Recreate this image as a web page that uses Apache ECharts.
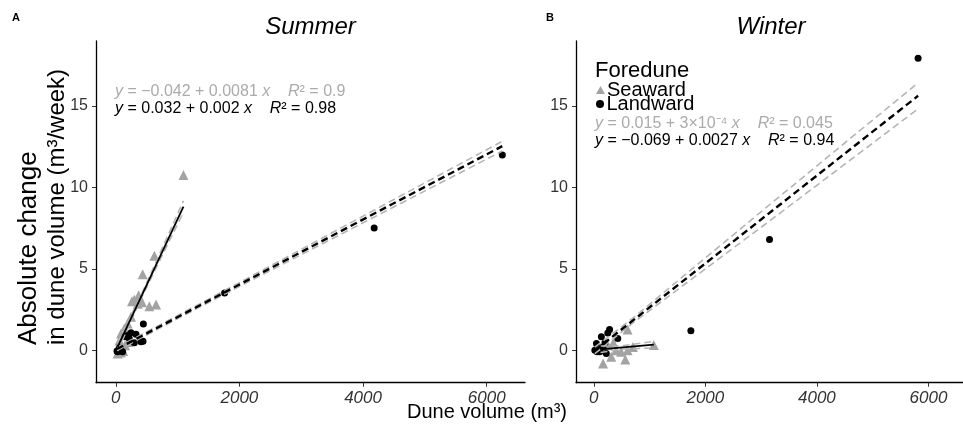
<!DOCTYPE html>
<html><head><meta charset="utf-8">
<script src="https://cdn.jsdelivr.net/npm/echarts@6/dist/echarts.min.js"></script>
<style>html,body{margin:0;padding:0;background:#fff}#c{width:963px;height:434px}</style>
</head><body><div id="c"></div>
<script>
// ---------- data ----------
const xTicks = [0, 2000, 4000, 6000];
const yTicks = [0, 5, 10, 15];

// Summer (panel A)
const summerSeawardX = [1095, 624, 435, 370, 262, 354, 425, 543, 652, 300, 246, 192, 138, 84, 60, 40, 30, 100, 150, 200, 80, 120];
const summerSeawardY = [10.76, 5.8, 4.67, 3.38, 3.0, 2.85, 2.95, 2.7, 2.8, 3.1, 2.05, 1.64, 1.33, 1.02, 0.6, 0.2, -0.2, 0.1, 0.3, 0.5, -0.15, -0.05];
const summerLandwardX = [6253, 4180, 1760, 446, 246, 327, 154, 219, 300, 408, 440, 20, 30, 84, 110, 60, 190];
const summerLandwardY = [12.0, 7.5, 3.52, 1.6, 1.07, 0.98, 0.82, 0.72, 0.45, 0.51, 0.55, -0.05, -0.1, 0.0, -0.1, 0.15, 0.9];

// Winter (panel B)
const winterSeawardX = [1075, 605, 605, 400, 564, 165, 312, 488, 700, 250, 120, 350];
const winterSeawardY = [0.31, 1.27, 0.0, 0.0, -0.57, -0.82, -0.41, -0.1, 0.2, 0.3, 0.1, 0.45];
const winterLandwardX = [5815, 3150, 1740, 282, 429, 135, 47, 18, 106, 223, 165, 250, 200, 60];
const winterLandwardY = [17.94, 6.8, 1.19, 1.27, 0.72, 0.82, 0.41, 0.0, -0.1, -0.2, 0.2, 1.05, 0.45, -0.1];

// fitted lines [intercept, slope] as printed on the chart
const summerSeawardFit = [-0.042, 0.0081];
const summerLandwardFit = [0.032, 0.002];
const winterSeawardFit = [0.015, 0.0003];
const winterLandwardFit = [-0.069, 0.0027];

// confidence band half-widths (start, interior points, end)
const summerSeawardCiMidX = [400];
const summerSeawardCiHalf = [0.25, 0.1, 0.35];
const summerLandwardCiMidX = [1500];
const summerLandwardCiHalf = [0.1, 0.1, 0.3];
const winterSeawardCiMidX = [500];
const winterSeawardCiHalf = [0.2, 0.1, 0.2];
const winterLandwardCiMidX = [700, 3150];
const winterLandwardCiHalf = [0.2, 0.15, 0.5, 0.8];

// ---------- helpers ----------
const FONT = 'Liberation Sans, Arial, sans-serif';
const GREY = '#a3a3a3';
const zip = (xs, ys) => xs.map((x, i) => [x, ys[i]]);
function fitLine(xs, fit) {
  const x0 = Math.min(...xs), x1 = Math.max(...xs);
  return [[x0, fit[0] + fit[1] * x0], [x1, fit[0] + fit[1] * x1]];
}
function ciLines(xs, fit, midX, half) {
  const px = [Math.min(...xs), ...midX, Math.max(...xs)];
  const up = px.map((x, i) => [x, fit[0] + fit[1] * x + half[i]]);
  const lo = px.map((x, i) => [x, fit[0] + fit[1] * x - half[i]]);
  return [up, lo];
}
function scatter(name, data, gi, isSea) {
  return {
    type: 'scatter', name, xAxisIndex: gi, yAxisIndex: gi, data,
    symbol: isSea ? 'triangle' : 'circle', symbolSize: isSea ? 10 : 7,
    itemStyle: { color: isSea ? GREY : '#000', opacity: 1 }, z: 2, silent: true
  };
}
function line(data, gi, color, width, dashed, z) {
  return {
    type: 'line', data, xAxisIndex: gi, yAxisIndex: gi, symbol: 'none', silent: true,
    lineStyle: { color, width, type: dashed ? [7, 4] : 'solid' }, z
  };
}
function fitGroup(xs, fit, midX, half, gi, landward) {
  const [up, lo] = ciLines(xs, fit, midX, half);
  return [
    line(up, gi, '#b5b5b5', 1.6, true, 3),
    line(lo, gi, '#b5b5b5', 1.6, true, 3),
    line(fitLine(xs, fit), gi, '#000', landward ? 2.4 : 1.8, landward, 4)
  ];
}

const series = [
  scatter('Seaward', zip(summerSeawardX, summerSeawardY), 0, true),
  scatter('Landward', zip(summerLandwardX, summerLandwardY), 0, false),
  scatter('Seaward', zip(winterSeawardX, winterSeawardY), 1, true),
  scatter('Landward', zip(winterLandwardX, winterLandwardY), 1, false),
  ...fitGroup(summerSeawardX, summerSeawardFit, summerSeawardCiMidX, summerSeawardCiHalf, 0, false),
  ...fitGroup(summerLandwardX, summerLandwardFit, summerLandwardCiMidX, summerLandwardCiHalf, 0, true),
  ...fitGroup(winterSeawardX, winterSeawardFit, winterSeawardCiMidX, winterSeawardCiHalf, 1, false),
  ...fitGroup(winterLandwardX, winterLandwardFit, winterLandwardCiMidX, winterLandwardCiHalf, 1, true)
];

const axisCommon = {
  type: 'value', splitLine: { show: false },
  axisLine: { show: true, onZero: false, lineStyle: { color: '#000', width: 1.3 } }
};
const xAxis = [0, 1].map(i => Object.assign({}, axisCommon, {
  gridIndex: i, min: -320, max: 6620,
  axisTick: { show: true, customValues: xTicks, length: 4, lineStyle: { color: '#333' } },
  axisLabel: { customValues: xTicks, formatter: v => String(v), fontStyle: 'italic', fontSize: 17, color: '#333', margin: 7, fontFamily: FONT }
}));
const yAxis = [0, 1].map(i => Object.assign({}, axisCommon, {
  gridIndex: i, min: -2, max: 19,
  axisTick: { show: true, customValues: yTicks, length: 4, lineStyle: { color: '#333' } },
  axisLabel: { customValues: yTicks, formatter: v => String(v), fontSize: 16, color: '#333', margin: 8, fontFamily: FONT }
}));

function eqText(str, x, y, color) {
  return {
    type: 'text', x, y, silent: true,
    style: {
      text: str, fill: color, font: '16px ' + FONT, verticalAlign: 'middle', align: 'left',
      rich: {
        i: { fontStyle: 'italic', fontSize: 16, fontFamily: FONT, fill: color }
      }
    }
  };
}

const graphic = [
  { type: 'text', x: 12, y: 18, style: { text: 'A', font: 'bold 11px ' + FONT, fill: '#000', verticalAlign: 'middle' } },
  { type: 'text', x: 546, y: 18, style: { text: 'B', font: 'bold 11px ' + FONT, fill: '#000', verticalAlign: 'middle' } },
  { type: 'text', x: 310.5, y: 27, style: { text: 'Summer', font: 'italic 24px ' + FONT, fill: '#000', align: 'center', verticalAlign: 'middle' } },
  { type: 'text', x: 771, y: 27, style: { text: 'Winter', font: 'italic 24px ' + FONT, fill: '#000', align: 'center', verticalAlign: 'middle' } },
  { type: 'text', x: 29, y: 345, rotation: Math.PI / 2, style: { text: 'Absolute change', font: '26px ' + FONT, fill: '#000', align: 'left', verticalAlign: 'middle' } },
  { type: 'text', x: 57, y: 345, rotation: Math.PI / 2, style: { text: 'in dune volume (m³/week)', font: '24px ' + FONT, fill: '#000', align: 'left', verticalAlign: 'middle' } },
  { type: 'text', x: 487, y: 412, style: { text: 'Dune volume (m³)', font: '20px ' + FONT, fill: '#000', align: 'center', verticalAlign: 'middle' } },
  { type: 'text', x: 595, y: 71, style: { text: 'Foredune', font: '22px ' + FONT, fill: '#000', align: 'left', verticalAlign: 'middle' } },
  eqText('{i|y} = −0.042 + 0.0081 {i|x}    {i|R}² = 0.9', 115, 92, '#ababab'),
  eqText('{i|y} = 0.032 + 0.002 {i|x}    {i|R}² = 0.98', 115, 109, '#000'),
  eqText('{i|y} = 0.015 + 3×10⁻⁴ {i|x}    {i|R}² = 0.045', 595, 124, '#ababab'),
  eqText('{i|y} = −0.069 + 0.0027 {i|x}    {i|R}² = 0.94', 595, 141, '#000')
];

const legendCommon = {
  orient: 'vertical', left: 596, padding: 0, itemGap: 0, itemWidth: 9, itemHeight: 8, selectedMode: false,
  textStyle: { fontSize: 20, color: '#000', fontFamily: FONT, padding: [0, 0, 0, -3] }
};

const option = {
  animation: false,
  backgroundColor: '#fff',
  textStyle: { fontFamily: FONT },
  grid: [
    { left: 96, top: 41, width: 429, height: 341.7 },
    { left: 576, top: 41, width: 393, height: 341.7 }
  ],
  xAxis, yAxis, series, graphic,
  legend: [
    Object.assign({}, legendCommon, { data: ['Seaward'], top: 80 }),
    Object.assign({}, legendCommon, { data: ['Landward'], top: 94 })
  ]
};
echarts.init(document.getElementById('c'), null, { renderer: 'canvas' }).setOption(option);
</script></body></html>
